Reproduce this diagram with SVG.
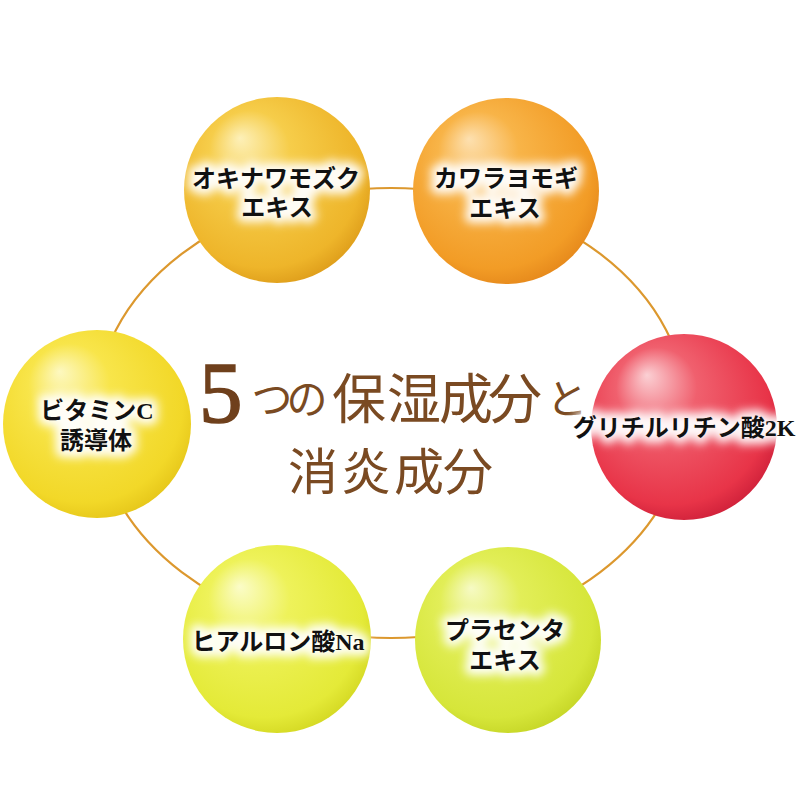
<svg xmlns="http://www.w3.org/2000/svg" width="800" height="800" viewBox="0 0 800 800">
  <defs>
    <radialGradient id="gYellowGold" cx="0.45" cy="0.42" r="0.62" fx="0.3" fy="0.22">
      <stop offset="0" stop-color="#fdf0b8"/>
      <stop offset="0.35" stop-color="#f6cd4a"/>
      <stop offset="0.85" stop-color="#eeb52a"/>
      <stop offset="1" stop-color="#dc9a18"/>
    </radialGradient>
    <radialGradient id="gOrange" cx="0.45" cy="0.42" r="0.62" fx="0.3" fy="0.22">
      <stop offset="0" stop-color="#fde0b0"/>
      <stop offset="0.35" stop-color="#f8b448"/>
      <stop offset="0.85" stop-color="#f29c26"/>
      <stop offset="1" stop-color="#e4861a"/>
    </radialGradient>
    <radialGradient id="gRed" cx="0.45" cy="0.42" r="0.62" fx="0.3" fy="0.22">
      <stop offset="0" stop-color="#fbd0d4"/>
      <stop offset="0.35" stop-color="#f0606e"/>
      <stop offset="0.85" stop-color="#e83448"/>
      <stop offset="1" stop-color="#cc1e38"/>
    </radialGradient>
    <radialGradient id="gYellow" cx="0.45" cy="0.42" r="0.62" fx="0.3" fy="0.22">
      <stop offset="0" stop-color="#fdf8c0"/>
      <stop offset="0.35" stop-color="#f8e54a"/>
      <stop offset="0.85" stop-color="#f2d828"/>
      <stop offset="1" stop-color="#e4c418"/>
    </radialGradient>
    <radialGradient id="gLemon" cx="0.45" cy="0.42" r="0.62" fx="0.3" fy="0.22">
      <stop offset="0" stop-color="#fbfcc8"/>
      <stop offset="0.35" stop-color="#eef25a"/>
      <stop offset="0.85" stop-color="#e4ea38"/>
      <stop offset="1" stop-color="#d2d620"/>
    </radialGradient>
    <radialGradient id="gLime" cx="0.45" cy="0.42" r="0.62" fx="0.3" fy="0.22">
      <stop offset="0" stop-color="#f6fac4"/>
      <stop offset="0.35" stop-color="#e2ee58"/>
      <stop offset="0.85" stop-color="#d6e63a"/>
      <stop offset="1" stop-color="#c4d424"/>
    </radialGradient>
    <filter id="glow" x="-20%" y="-60%" width="140%" height="220%">
      <feGaussianBlur stdDeviation="5"/>
    </filter>
  </defs>
  <style>
    .ring { fill: none; stroke: #dc982e; stroke-width: 2.2; }
    .lbl { font-family: "Liberation Serif", "Noto Sans CJK JP", serif; font-size: 24px; font-weight: 700; text-anchor: middle; fill: #111; }
    .halo { font-family: "Liberation Serif", "Noto Sans CJK JP", serif; font-size: 24px; font-weight: 700; text-anchor: middle; fill: #fff; stroke: #fff; stroke-width: 12; stroke-linejoin: round; opacity: 0.95; }
    .title { font-family: "Noto Sans CJK JP", sans-serif; fill: #7a4a22; text-anchor: middle; }
    .five { font-family: "Liberation Serif", serif; font-size: 87px; fill: #6f401c; stroke: #6f401c; stroke-width: 1.5; }
  </style>
  <rect width="800" height="800" fill="#ffffff"/>

  <g id="connectors">
    <ellipse class="ring" cx="391" cy="413" rx="296" ry="225"/>
  </g>

  <g id="title">
    <text class="five" x="199" y="422">5</text>
    <text class="title" font-size="41" x="272 307" y="414">つの</text>
    <text class="title" font-size="54" x="359 414 466 515" y="419">保湿成分</text>
    <text class="title" font-size="41" x="567" y="414">と</text>
    <text class="title" font-size="50" x="313 366 419 468" y="490">消炎成分</text>
  </g>

  <g id="node-okinawa">
    <circle cx="277" cy="190" r="93" fill="url(#gYellowGold)"/>
    <g filter="url(#glow)">
      <text class="halo" x="276" y="187">オキナワモズク</text>
      <text class="halo" x="277" y="216">エキス</text>
    </g>
    <text class="lbl" x="276" y="187">オキナワモズク</text>
    <text class="lbl" x="277" y="216">エキス</text>
  </g>

  <g id="node-kawara">
    <circle cx="506" cy="191" r="93" fill="url(#gOrange)"/>
    <g filter="url(#glow)">
      <text class="halo" x="506" y="187">カワラヨモギ</text>
      <text class="halo" x="505" y="217">エキス</text>
    </g>
    <text class="lbl" x="506" y="187">カワラヨモギ</text>
    <text class="lbl" x="505" y="217">エキス</text>
  </g>

  <g id="node-glycyrrhizin">
    <circle cx="684" cy="427" r="93" fill="url(#gRed)"/>
    <g filter="url(#glow)">
      <text class="halo" x="684" y="436">グリチルリチン酸2K</text>
    </g>
    <text class="lbl" x="684" y="436">グリチルリチン酸2K</text>
  </g>

  <g id="node-placenta">
    <circle cx="508" cy="640" r="93" fill="url(#gLime)"/>
    <g filter="url(#glow)">
      <text class="halo" x="505" y="639">プラセンタ</text>
      <text class="halo" x="505" y="669">エキス</text>
    </g>
    <text class="lbl" x="505" y="639">プラセンタ</text>
    <text class="lbl" x="505" y="669">エキス</text>
  </g>

  <g id="node-hyaluron">
    <circle cx="277" cy="639" r="94" fill="url(#gLemon)"/>
    <g filter="url(#glow)">
      <text class="halo" x="278" y="650">ヒアルロン酸Na</text>
    </g>
    <text class="lbl" x="278" y="650">ヒアルロン酸Na</text>
  </g>

  <g id="node-vitaminc">
    <circle cx="97" cy="424" r="94" fill="url(#gYellow)"/>
    <g filter="url(#glow)">
      <text class="halo" x="97" y="419">ビタミンC</text>
      <text class="halo" x="96" y="449">誘導体</text>
    </g>
    <text class="lbl" x="97" y="419">ビタミンC</text>
    <text class="lbl" x="96" y="449">誘導体</text>
  </g>
</svg>
